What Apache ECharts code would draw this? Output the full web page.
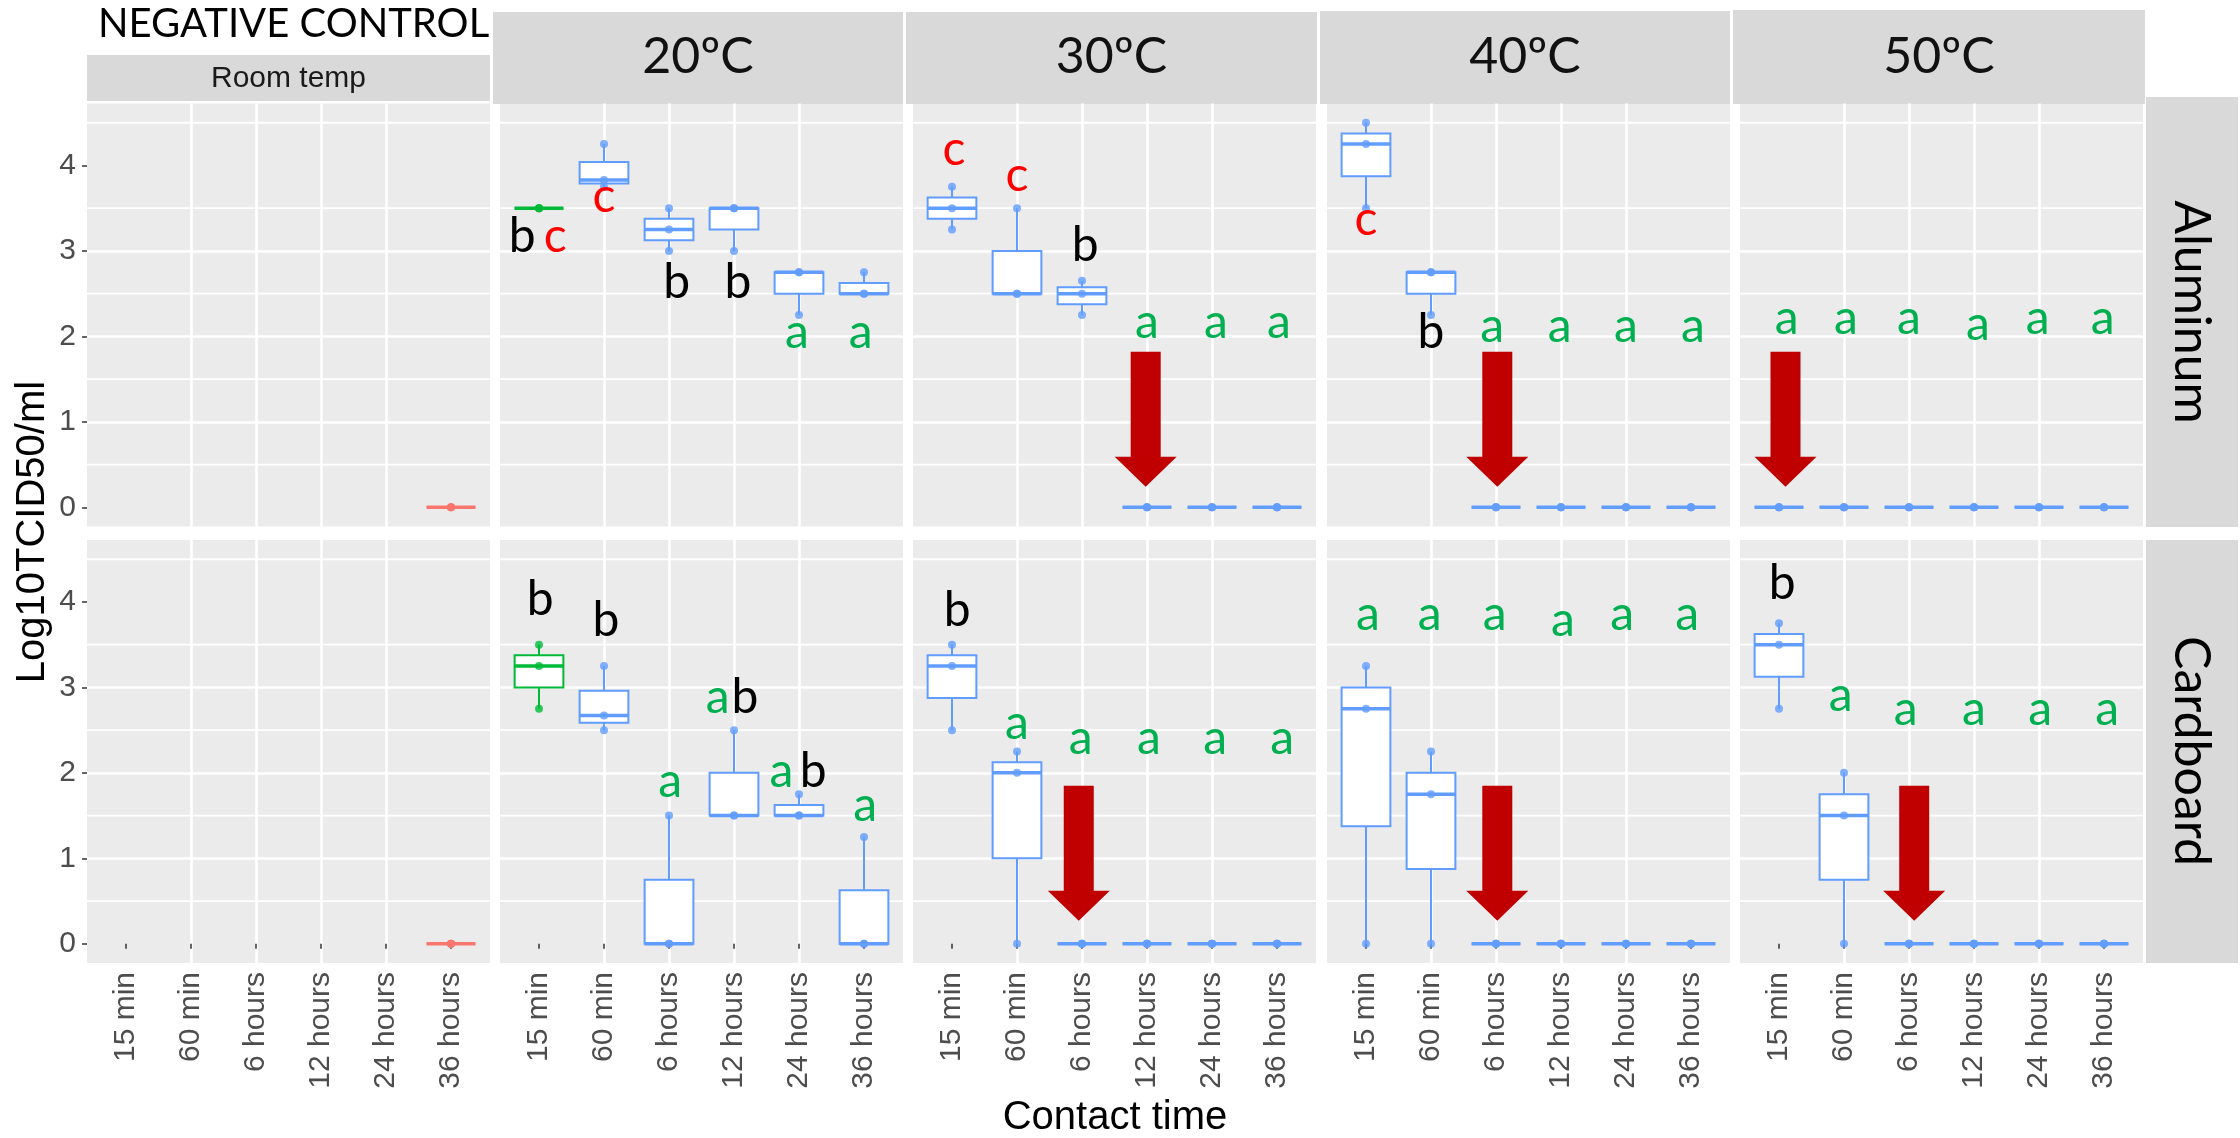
<!DOCTYPE html>
<html><head><meta charset="utf-8">
<script src="https://cdn.jsdelivr.net/npm/echarts@6/dist/echarts.min.js"></script>
<style>html,body{margin:0;padding:0;background:#fff}#c{width:2240px;height:1138px}</style>
</head><body><div id="c"></div>
<script>
// ---------------- DATA ----------------
const CATEGORIES = ['15 min', '60 min', '6 hours', '12 hours', '24 hours', '36 hours'];
const TEMPERATURES = ['20ºC', '30ºC', '40ºC', '50ºC'];
const CONTROL_LABEL = 'Room temp';
const CONTROL_TITLE = 'NEGATIVE CONTROL';
const SURFACES = ['Aluminum', 'Cardboard'];
const Y_TICKS = [0, 1, 2, 3, 4];
const Y_MINOR = [0.5, 1.5, 2.5, 3.5, 4.5];
const X_TICKS = [1, 2, 3, 4, 5, 6];
const X_TITLE = 'Contact time';
const Y_TITLE = 'Log10TCID50/ml';

// replicate values per contact time (null = not tested)
const alControl = [null, null, null, null, null, [0, 0, 0]];
const al20 = [[3.5, 3.5, 3.5], [3.75, 3.83, 4.25], [3, 3.25, 3.5], [3, 3.5, 3.5], [2.25, 2.75, 2.75], [2.5, 2.5, 2.75]];
const al30 = [[3.25, 3.5, 3.75], [2.5, 2.5, 3.5], [2.25, 2.5, 2.65], [0, 0, 0], [0, 0, 0], [0, 0, 0]];
const al40 = [[3.5, 4.25, 4.5], [2.25, 2.75, 2.75], [0, 0, 0], [0, 0, 0], [0, 0, 0], [0, 0, 0]];
const al50 = [[0, 0, 0], [0, 0, 0], [0, 0, 0], [0, 0, 0], [0, 0, 0], [0, 0, 0]];
const cbControl = [null, null, null, null, null, [0, 0, 0]];
const cb20 = [[2.75, 3.25, 3.5], [2.5, 2.67, 3.25], [0, 0, 1.5], [1.5, 1.5, 2.5], [1.5, 1.5, 1.75], [0, 0, 1.25]];
const cb30 = [[2.5, 3.25, 3.5], [0, 2, 2.25], [0, 0, 0], [0, 0, 0], [0, 0, 0], [0, 0, 0]];
const cb40 = [[0, 2.75, 3.25], [0, 1.75, 2.25], [0, 0, 0], [0, 0, 0], [0, 0, 0], [0, 0, 0]];
const cb50 = [[2.75, 3.5, 3.75], [0, 1.5, 2], [0, 0, 0], [0, 0, 0], [0, 0, 0], [0, 0, 0]];

// box summaries [min, Q1, median, Q3, max]
const Z = [0, 0, 0, 0, 0];
const alControlBox = [null, null, null, null, null, Z];
const al20Box = [[3.5, 3.5, 3.5, 3.5, 3.5], [3.75, 3.79, 3.83, 4.04, 4.25], [3, 3.125, 3.25, 3.375, 3.5], [3, 3.25, 3.5, 3.5, 3.5], [2.25, 2.5, 2.75, 2.75, 2.75], [2.5, 2.5, 2.5, 2.625, 2.75]];
const al30Box = [[3.25, 3.375, 3.5, 3.625, 3.75], [2.5, 2.5, 2.5, 3, 3.5], [2.25, 2.375, 2.5, 2.575, 2.65], Z, Z, Z];
const al40Box = [[3.5, 3.875, 4.25, 4.375, 4.5], [2.25, 2.5, 2.75, 2.75, 2.75], Z, Z, Z, Z];
const al50Box = [Z, Z, Z, Z, Z, Z];
const cbControlBox = [null, null, null, null, null, Z];
const cb20Box = [[2.75, 3, 3.25, 3.375, 3.5], [2.5, 2.585, 2.67, 2.96, 3.25], [0, 0, 0, 0.75, 1.5], [1.5, 1.5, 1.5, 2, 2.5], [1.5, 1.5, 1.5, 1.625, 1.75], [0, 0, 0, 0.625, 1.25]];
const cb30Box = [[2.5, 2.875, 3.25, 3.375, 3.5], [0, 1, 2, 2.125, 2.25], Z, Z, Z, Z];
const cb40Box = [[0, 1.375, 2.75, 3, 3.25], [0, 0.875, 1.75, 2, 2.25], Z, Z, Z, Z];
const cb50Box = [[2.75, 3.125, 3.5, 3.625, 3.75], [0, 0.75, 1.5, 1.75, 2], Z, Z, Z, Z];

// colour group per box: 0 = control, 1 = reference, 2 = treatment
const controlGroup = [0, 0, 0, 0, 0, 0];
const firstGreenGroup = [1, 2, 2, 2, 2, 2];
const blueGroup = [2, 2, 2, 2, 2, 2];

// significance letters: [x position, baseline value, letter, colour key]
const al20Letters = [[0.74, 2.95, 'b', 'k'], [1.25, 2.95, 'c', 'r'], [2.0, 3.42, 'c', 'r'], [3.12, 2.41, 'b', 'k'], [4.06, 2.41, 'b', 'k'], [4.97, 1.83, 'a', 'g'], [5.95, 1.83, 'a', 'g']];
const al30Letters = [[1.03, 3.97, 'c', 'r'], [2.0, 3.67, 'c', 'r'], [3.05, 2.85, 'b', 'k'], [4.0, 1.94, 'a', 'g'], [5.06, 1.94, 'a', 'g'], [6.03, 1.94, 'a', 'g']];
const al40Letters = [[1.0, 3.15, 'c', 'r'], [2.0, 1.83, 'b', 'k'], [2.94, 1.9, 'a', 'g'], [3.98, 1.9, 'a', 'g'], [5.0, 1.9, 'a', 'g'], [6.03, 1.9, 'a', 'g']];
const al50Letters = [[1.12, 1.99, 'a', 'g'], [2.03, 1.99, 'a', 'g'], [3.0, 1.99, 'a', 'g'], [4.06, 1.92, 'a', 'g'], [4.98, 1.99, 'a', 'g'], [5.98, 1.99, 'a', 'g']];
const cb20Letters = [[1.02, 3.81, 'b', 'k'], [2.03, 3.56, 'b', 'k'], [3.02, 1.68, 'a', 'g'], [3.75, 2.67, 'a', 'g'], [4.17, 2.67, 'b', 'k'], [4.73, 1.8, 'a', 'g'], [5.22, 1.8, 'b', 'k'], [6.02, 1.4, 'a', 'g']];
const cb30Letters = [[1.08, 3.68, 'b', 'k'], [2.0, 2.36, 'a', 'g'], [2.98, 2.18, 'a', 'g'], [4.03, 2.18, 'a', 'g'], [5.05, 2.18, 'a', 'g'], [6.08, 2.18, 'a', 'g']];
const cb40Letters = [[1.03, 3.63, 'a', 'g'], [1.98, 3.63, 'a', 'g'], [2.98, 3.63, 'a', 'g'], [4.03, 3.57, 'a', 'g'], [4.94, 3.63, 'a', 'g'], [5.94, 3.63, 'a', 'g']];
const cb50Letters = [[1.05, 4.0, 'b', 'k'], [1.95, 2.69, 'a', 'g'], [2.95, 2.52, 'a', 'g'], [4.0, 2.52, 'a', 'g'], [5.02, 2.52, 'a', 'g'], [6.05, 2.52, 'a', 'g']];

// "below detection" arrows: [x position, top, head base, tip]
const al30Arrows = [[3.98, 1.82, 0.59, 0.24]];
const al40Arrows = [[3.02, 1.82, 0.59, 0.24]];
const al50Arrows = [[1.1, 1.82, 0.59, 0.24]];
const cb30Arrows = [[2.95, 1.85, 0.62, 0.27]];
const cb40Arrows = [[3.02, 1.85, 0.62, 0.27]];
const cb50Arrows = [[3.08, 1.85, 0.62, 0.27]];

// ---------------- LAYOUT / STYLE ----------------
const COL_LEFT = [87, 500, 913, 1327, 1740];
const ROW_TOP = [103.5, 540];
const PANEL_W = 403, PANEL_H = 423;
const FONT_AXIS = "'Liberation Sans', Arial, Helvetica, sans-serif";
const FONT_ANNOT = "Lato, 'Open Sans', sans-serif";
const GROUP_COLORS = ['#F8766D', '#00BA38', '#619CFF'];
const LETTER_COLORS = { r: '#FF0000', g: '#00B050', k: '#000000' };
const LETTER_SIZE = 48;
const ARROW_COLOR = '#C00000';
const GRID_MAJOR_W = 2.6, GRID_MINOR_W = 1.8;

const PANELS = [
  { row: 0, col: 0, reps: alControl, box: alControlBox, grp: controlGroup, letters: [], arrows: [] },
  { row: 0, col: 1, reps: al20, box: al20Box, grp: firstGreenGroup, letters: al20Letters, arrows: [] },
  { row: 0, col: 2, reps: al30, box: al30Box, grp: blueGroup, letters: al30Letters, arrows: al30Arrows },
  { row: 0, col: 3, reps: al40, box: al40Box, grp: blueGroup, letters: al40Letters, arrows: al40Arrows },
  { row: 0, col: 4, reps: al50, box: al50Box, grp: blueGroup, letters: al50Letters, arrows: al50Arrows },
  { row: 1, col: 0, reps: cbControl, box: cbControlBox, grp: controlGroup, letters: [], arrows: [] },
  { row: 1, col: 1, reps: cb20, box: cb20Box, grp: firstGreenGroup, letters: cb20Letters, arrows: [] },
  { row: 1, col: 2, reps: cb30, box: cb30Box, grp: blueGroup, letters: cb30Letters, arrows: cb30Arrows },
  { row: 1, col: 3, reps: cb40, box: cb40Box, grp: blueGroup, letters: cb40Letters, arrows: cb40Arrows },
  { row: 1, col: 4, reps: cb50, box: cb50Box, grp: blueGroup, letters: cb50Letters, arrows: cb50Arrows }
];

function renderMinorGrid(params, api) {
  const x0 = api.coord([0.4, api.value(1)]);
  const x1 = api.coord([6.6, api.value(1)]);
  return { type: 'line', shape: { x1: x0[0], y1: x0[1], x2: x1[0], y2: x1[1] }, style: { stroke: '#FFFFFF', lineWidth: GRID_MINOR_W } };
}

function renderBox(params, api) {
  const x = api.value(0);
  const col = GROUP_COLORS[api.value(6)];
  const half = api.size([0.75, 0])[0] / 2;
  const pMin = api.coord([x, api.value(1)]);
  const pQ1 = api.coord([x, api.value(2)]);
  const pMed = api.coord([x, api.value(3)]);
  const pQ3 = api.coord([x, api.value(4)]);
  const pMax = api.coord([x, api.value(5)]);
  return {
    type: 'group',
    children: [
      { type: 'line', shape: { x1: pMax[0], y1: pMax[1], x2: pQ3[0], y2: pQ3[1] }, style: { stroke: col, lineWidth: 2 } },
      { type: 'line', shape: { x1: pQ1[0], y1: pQ1[1], x2: pMin[0], y2: pMin[1] }, style: { stroke: col, lineWidth: 2 } },
      { type: 'rect', shape: { x: pQ3[0] - half, y: pQ3[1], width: 2 * half, height: pQ1[1] - pQ3[1] }, style: { fill: '#FFFFFF', stroke: col, lineWidth: 2 } },
      { type: 'line', shape: { x1: pMed[0] - half, y1: pMed[1], x2: pMed[0] + half, y2: pMed[1] }, style: { stroke: col, lineWidth: 3.5 } }
    ]
  };
}

function makeLetterRenderer(list) {
  return function (params, api) {
    const it = list[params.dataIndex];
    const p = api.coord([api.value(0), api.value(1)]);
    return {
      type: 'text',
      x: p[0],
      y: p[1] - 0.387 * LETTER_SIZE,
      style: { text: it[2], fill: LETTER_COLORS[it[3]], font: LETTER_SIZE + 'px ' + FONT_ANNOT, align: 'center', verticalAlign: 'middle' }
    };
  };
}

function renderArrow(params, api) {
  const x = api.value(0);
  const top = api.coord([x, api.value(1)]);
  const base = api.coord([x, api.value(2)]);
  const tip = api.coord([x, api.value(3)]);
  const s = 15, h = 31, cx = top[0];
  return {
    type: 'polygon',
    shape: { points: [[cx - s, top[1]], [cx + s, top[1]], [cx + s, base[1]], [cx + h, base[1]], [cx, tip[1]], [cx - h, base[1]], [cx - s, base[1]]] },
    style: { fill: ARROW_COLOR }
  };
}

const grids = [], xAxes = [], yAxes = [], series = [];
PANELS.forEach(function (P, i) {
  grids.push({ left: COL_LEFT[P.col], top: ROW_TOP[P.row], width: PANEL_W, height: PANEL_H, show: true, backgroundColor: '#EBEBEB', borderWidth: 0, containLabel: false, outerBoundsMode: 'none' });
  xAxes.push({
    type: 'value', gridIndex: i, min: 0.4, max: 6.6,
    axisLine: { show: false },
    axisTick: { show: P.row === 1, customValues: X_TICKS, length: 5, lineStyle: { color: '#333333', width: 1.5 } },
    axisLabel: { show: P.row === 1, customValues: X_TICKS, rotate: 90, margin: 9, fontSize: 30, fontFamily: FONT_AXIS, color: '#4D4D4D', formatter: function (v) { return CATEGORIES[Math.round(v) - 1]; } },
    splitLine: { show: true, showMinLine: false, showMaxLine: false, lineStyle: { color: '#FFFFFF', width: GRID_MAJOR_W } }
  });
  yAxes.push({
    type: 'value', gridIndex: i, min: -0.225, max: 4.725,
    axisLine: { show: false },
    axisTick: { show: P.col === 0, customValues: Y_TICKS, length: 5, lineStyle: { color: '#333333', width: 1.5 } },
    axisLabel: { show: P.col === 0, customValues: Y_TICKS, margin: 11, fontSize: 30, fontFamily: FONT_AXIS, color: '#4D4D4D' },
    splitLine: { show: true, showMinLine: false, showMaxLine: false, lineStyle: { color: '#FFFFFF', width: GRID_MAJOR_W } }
  });
});

PANELS.forEach(function (P, i) {
  const boxData = [];
  const pointData = [];
  P.box.forEach(function (b, k) {
    if (!b) return;
    boxData.push([k + 1, b[0], b[1], b[2], b[3], b[4], P.grp[k]]);
  });
  P.reps.forEach(function (r, k) {
    if (!r) return;
    r.forEach(function (v) { pointData.push({ value: [k + 1, v], itemStyle: { color: GROUP_COLORS[P.grp[k]] } }); });
  });
  // minor horizontal grid lines at half units
  series.push({ type: 'custom', xAxisIndex: i, yAxisIndex: i, renderItem: renderMinorGrid, data: Y_MINOR.map(function (v) { return [3.5, v]; }), z: 1, silent: true, clip: false, animation: false });
  series.push({ type: 'custom', xAxisIndex: i, yAxisIndex: i, renderItem: renderBox, data: boxData, z: 3, silent: true, clip: false, animation: false });
  series.push({ type: 'scatter', xAxisIndex: i, yAxisIndex: i, data: pointData, symbol: 'circle', symbolSize: 8, z: 4, silent: true, animation: false });
  if (P.letters.length) {
    series.push({ type: 'custom', xAxisIndex: i, yAxisIndex: i, renderItem: makeLetterRenderer(P.letters), data: P.letters.map(function (l) { return [l[0], l[1]]; }), z: 6, silent: true, clip: false, animation: false });
  }
  if (P.arrows.length) {
    series.push({ type: 'custom', xAxisIndex: i, yAxisIndex: i, renderItem: renderArrow, data: P.arrows, z: 5, silent: true, clip: false, animation: false });
  }
});

// strips and titles
const STRIP_FILL = '#D9D9D9';
const TEMP_STRIPS = [[493, 12, 410, 92], [906, 12, 411, 92], [1320, 11, 410, 93], [1733, 10, 412, 94]];
const graphics = [
  { type: 'rect', shape: { x: 87, y: 55, width: 403, height: 46 }, style: { fill: STRIP_FILL } },
  { type: 'text', x: 288.5, y: 79, style: { text: CONTROL_LABEL, font: '30px ' + FONT_AXIS, fill: '#1A1A1A', align: 'center', verticalAlign: 'middle' } },
  { type: 'text', x: 98, y: 24, style: { text: CONTROL_TITLE, font: '40px ' + FONT_ANNOT, fill: '#000000', align: 'left', verticalAlign: 'middle' } },
  { type: 'rect', shape: { x: 2146, y: 97, width: 92, height: 430 }, style: { fill: STRIP_FILL } },
  { type: 'rect', shape: { x: 2146, y: 540, width: 92, height: 423 }, style: { fill: STRIP_FILL } },
  { type: 'text', x: 2191, y: 312, rotation: -Math.PI / 2, style: { text: SURFACES[0], font: '50px ' + FONT_ANNOT, fill: '#000000', align: 'center', verticalAlign: 'middle' } },
  { type: 'text', x: 2191, y: 751, rotation: -Math.PI / 2, style: { text: SURFACES[1], font: '50px ' + FONT_ANNOT, fill: '#000000', align: 'center', verticalAlign: 'middle' } },
  { type: 'text', x: 33, y: 532, rotation: Math.PI / 2, style: { text: Y_TITLE, font: '40px ' + FONT_AXIS, fill: '#000000', align: 'center', verticalAlign: 'middle' } },
  { type: 'text', x: 1115, y: 1118, style: { text: X_TITLE, font: '40px ' + FONT_AXIS, fill: '#000000', align: 'center', verticalAlign: 'middle' } }
];
TEMP_STRIPS.forEach(function (s, k) {
  graphics.push({ type: 'rect', shape: { x: s[0], y: s[1], width: s[2], height: s[3] }, style: { fill: STRIP_FILL } });
  graphics.push({ type: 'text', x: s[0] + s[2] / 2, y: 57, style: { text: TEMPERATURES[k], font: '50px ' + FONT_ANNOT, fill: '#111111', align: 'center', verticalAlign: 'middle' } });
});

const chart = echarts.init(document.getElementById('c'), null, { renderer: 'canvas' });
chart.setOption({
  animation: false,
  backgroundColor: '#FFFFFF',
  grid: grids,
  xAxis: xAxes,
  yAxis: yAxes,
  series: series,
  graphic: { elements: graphics }
});
</script>
</body></html>
